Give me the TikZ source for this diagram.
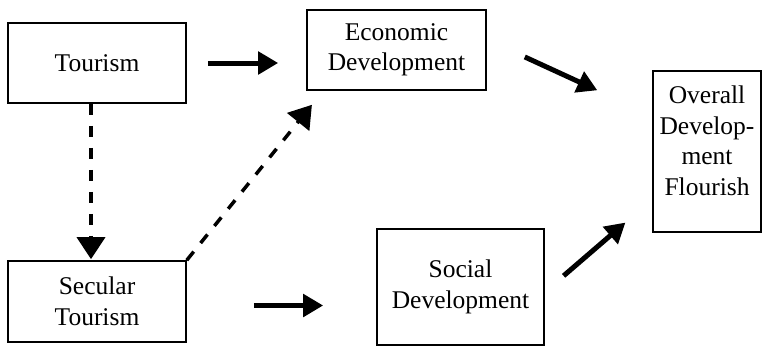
\documentclass[tikz,border=0pt]{standalone}
\usepackage{fontspec}
\setmainfont{Liberation Serif}
\usetikzlibrary{arrows.meta,calc}
\begin{document}
\begin{tikzpicture}[x=1pt,y=-1pt,
  box/.style={draw,line width=1.6pt,align=center,inner sep=0pt,
    font=\fontsize{25.5}{30.5}\selectfont},
  solidarrow/.style={line width=5pt,-{Triangle[length=20pt,width=22pt]}},
  dasharrow/.style={line width=3.5pt,dash pattern=on 11pt off 11pt,
    -{Triangle[length=22pt,width=28pt]}}]
\useasboundingbox (0,0) rectangle (762,346);

% boxes
\node[box,minimum width=178pt,minimum height=80pt]  (tour)    at (97,63)    {Tourism};
\node[box,minimum width=179pt,minimum height=80pt]  (econ)    at (396.5,50) {Economic\\Development};
\node[box,minimum width=108pt,minimum height=161pt,text depth=22pt] (overall) at (707,151.5)
  {Overall\\Develop-\\ment\\Flourish};
\node[box,minimum width=178pt,minimum height=81pt]  (sec)     at (97,301.5) {Secular\\Tourism};
\node[box,minimum width=167pt,minimum height=116pt] (soc)     at (460.5,287){Social\\Development};

% solid arrows
\draw[solidarrow,shorten <=21pt,shorten >=28pt] (tour.east) -- (tour.east -| econ.west);
\draw[solidarrow,shorten <=41.8pt,shorten >=60.4pt]
  ([yshift=10.5pt]econ.east) -- ([yshift=36pt]overall.west);
\draw[solidarrow,shorten <=24.8pt,shorten >=35.3pt]
  ([yshift=-5pt]soc.east) -- ([yshift=-48pt]overall.west);
\draw[solidarrow,shorten <=67pt,shorten >=53pt]
  ([yshift=-4pt]sec.east) -- ([yshift=-4pt]sec.east -| soc.west);

% dashed arrows
\draw[dasharrow,shorten >=1pt] ([xshift=-6pt]tour.south) -- ([xshift=-6pt]sec.north);
\draw[dasharrow,shorten >=18pt] (sec.north east) -- ([xshift=17pt]econ.south west);
\end{tikzpicture}
\end{document}
